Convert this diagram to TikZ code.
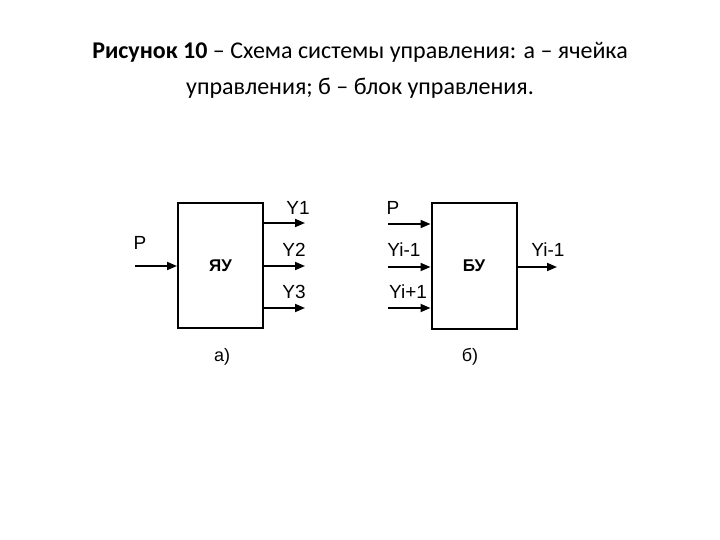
\documentclass[tikz,border=0pt]{standalone}
\usepackage{fontspec}
\setmainfont{Liberation Sans}
\newfontfamily\titlefont{Carlito}
\usetikzlibrary{arrows.meta}
\begin{document}
\begin{tikzpicture}[x=1pt,y=-1pt,
  blk/.style={draw,line width=2pt,minimum width=85pt,minimum height=125pt,inner sep=0pt,font=\fontsize{17}{19}\selectfont\bfseries},
  sig/.style={line width=1.8pt,-{Triangle[length=10pt,width=8pt]}},
  lbl/.style={font=\fontsize{19}{21}\selectfont,inner sep=0pt},
  ttl/.style={font=\titlefont\fontsize{24}{36}\selectfont,align=center,inner sep=0pt}]
\useasboundingbox (0,0) rectangle (720,540);
\node[ttl] (title) at (360,70) {\textbf{Рисунок 10} – Схема системы управления: а – ячейка\\управления; б – блок управления.};
% a
\node[blk] (ya) at (220.5,265.5) {ЯУ};
\coordinate (pin) at (135,266);
\draw[sig] (pin) -- (pin -| ya.west);
\node[lbl] (lp) at (140,243) {P};
\coordinate (y1) at (305,223);
\coordinate (y2) at (305,266);
\coordinate (y3) at (305,308);
\draw[sig] (y1 -| ya.east) -- (y1);
\draw[sig] (y2 -| ya.east) -- (y2);
\draw[sig] (y3 -| ya.east) -- (y3);
\node[lbl] (ly1) at (298,208) {Y1};
\node[lbl] (ly2) at (294,250) {Y2};
\node[lbl] (ly3) at (294,292) {Y3};
\node[lbl,font=\fontsize{18}{20}\selectfont] (la) at (222,357) {а)};
% b
\node[blk] (bu) at (474,266) {БУ};
\coordinate (bp) at (388,224);
\coordinate (bm) at (388,267);
\coordinate (bpl) at (388,308);
\draw[sig] (bp) -- (bp -| bu.west);
\draw[sig] (bm) -- (bm -| bu.west);
\draw[sig] (bpl) -- (bpl -| bu.west);
\coordinate (bout) at (557,267);
\draw[sig] (bout -| bu.east) -- (bout);
\node[lbl] (lbp) at (393,208) {P};
\node[lbl] (lbm) at (404,250) {Yi-1};
\node[lbl] (lbpl) at (408,292) {Yi+1};
\node[lbl] (lbo) at (548,250) {Yi-1};
\node[lbl,font=\fontsize{18}{20}\selectfont] (lb) at (470,357) {б)};
\end{tikzpicture}
\end{document}
